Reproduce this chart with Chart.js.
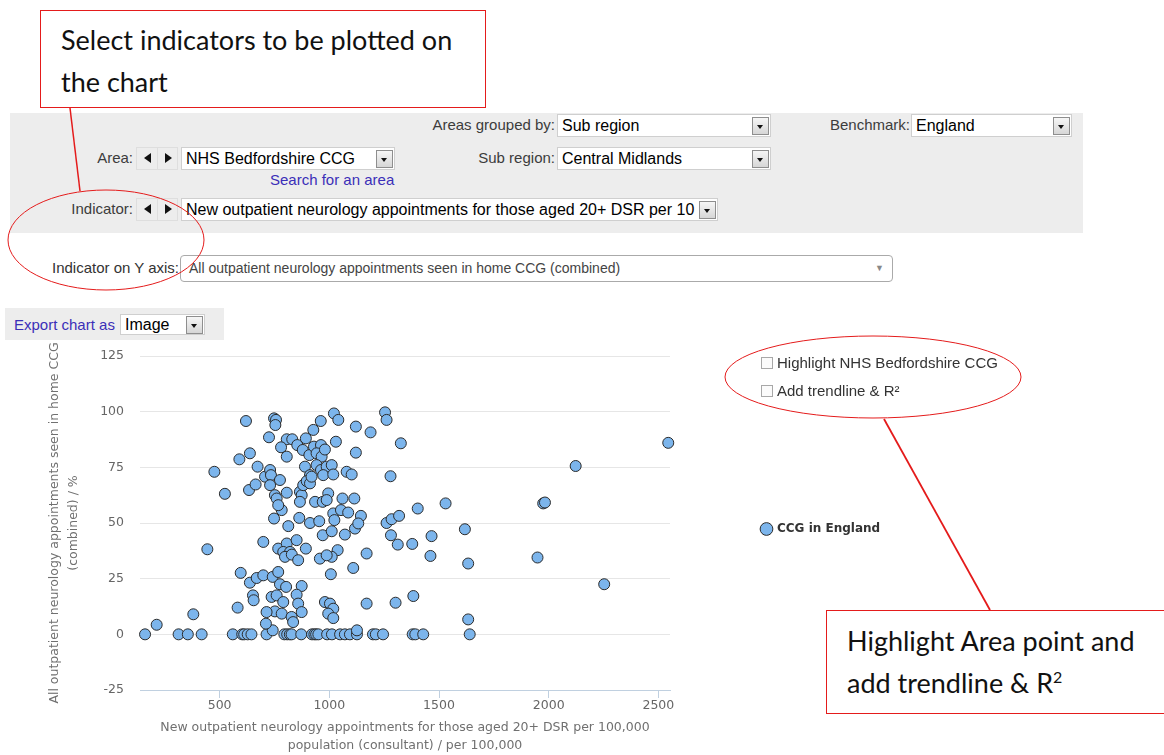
<!DOCTYPE html>
<html>
<head>
<meta charset="utf-8">
<script src="https://cdn.jsdelivr.net/npm/chart.js@4.4.1/dist/chart.umd.min.js"></script>
<style>
body { margin: 0; width: 1164px; height: 755px; position: relative; overflow: hidden; background: #fff;
  font-family: "Liberation Sans", Arial, sans-serif; }
.abs { position: absolute; }
.callout { position: absolute; border: 1px solid #e41b1b; background: #fff; font-family: Lato, "Open Sans", sans-serif;
  font-size: 27px; color: #111; line-height: 42px; box-sizing: border-box; white-space: nowrap; }
.panel { left: 10px; top: 113px; width: 1073px; height: 120px; background: #ededed; }
.lbl { position: absolute; font-size: 15px; color: #3c3c3c; line-height: 20px; text-align: right; white-space: nowrap; }
.sel { position: absolute; height: 23px; background: #fff; border: 1px solid #cfcfcf; box-sizing: border-box;
  font-size: 16px; line-height: 21px; padding-left: 4px; color: #000; white-space: nowrap; overflow: hidden; }
.btn { position: absolute; right: 1px; top: 2px; width: 15px; height: 16px; border: 1px solid #8e8e8e;
  background: linear-gradient(#f6f6f6, #d6d6d6); }
.btn:after { content: ""; position: absolute; left: 4px; top: 7px; border-left: 3.5px solid transparent;
  border-right: 3.5px solid transparent; border-top: 4px solid #111; }
.arrows { position: absolute; width: 42px; height: 23px; border: 1px solid #dedede; box-sizing: border-box; }
.arrows:before { content: ""; position: absolute; left: 20px; top: 0; width: 1px; height: 21px; background: #dedede; }
.arrows .l, .arrows .r { position: absolute; top: 5px; border-top: 5px solid transparent; border-bottom: 5px solid transparent; }
.arrows .l { left: 7px; border-right: 7px solid #111; }
.arrows .r { left: 28px; border-left: 7px solid #111; }
.link { position: absolute; color: #3b2fb8; font-size: 15px; white-space: nowrap; }
.chk { position: absolute; font-size: 15px; color: #333; white-space: nowrap; line-height: 18px; }
.chk span { display: inline-block; width: 10px; height: 10px; border: 1px solid #a8a8a8; background: #fbfbfb;
  margin-right: 4px; vertical-align: -1px; }
</style>
</head>
<body>

<div class="callout" style="left:40px;top:10px;width:446px;height:98px;padding:8px 0 0 20px;">Select indicators to be plotted on<br>the chart</div>

<div class="abs panel"></div>
<div class="lbl" style="right:609px;top:115px;">Areas grouped by:</div>
<div class="sel" style="left:557px;top:114px;width:214px;">Sub region<div class="btn"></div></div>
<div class="lbl" style="right:254px;top:115px;">Benchmark:</div>
<div class="sel" style="left:911px;top:114px;width:161px;">England<div class="btn"></div></div>

<div class="lbl" style="right:1031px;top:148px;">Area:</div>
<div class="arrows" style="left:136px;top:147px;"><div class="l"></div><div class="r"></div></div>
<div class="sel" style="left:181px;top:147px;width:214px;">NHS Bedfordshire CCG<div class="btn"></div></div>
<div class="lbl" style="right:609px;top:148px;">Sub region:</div>
<div class="sel" style="left:557px;top:147px;width:214px;">Central Midlands<div class="btn"></div></div>
<div class="link" style="left:270px;top:171px;">Search for an area</div>

<div class="lbl" style="right:1031px;top:199px;">Indicator:</div>
<div class="arrows" style="left:136px;top:198px;"><div class="l"></div><div class="r"></div></div>
<div class="sel" style="left:181px;top:198px;width:537px;">New outpatient neurology appointments for those aged 20+ DSR per 10<div class="btn"></div></div>

<div class="lbl" style="left:52px;top:258px;font-size:15px;color:#333;">Indicator on Y axis:</div>
<div class="abs" style="left:180px;top:255px;width:713px;height:27px;border:1px solid #aaa;border-radius:4px;box-sizing:border-box;
  font-size:14px;line-height:25px;padding-left:8px;color:#444;">All outpatient neurology appointments seen in home CCG (combined)
  <span style="position:absolute;right:8px;top:0;font-size:9px;color:#888;">&#9660;</span></div>

<div class="abs" style="left:5px;top:308px;width:219px;height:32px;background:#ededed;"></div>
<div class="link" style="left:14px;top:316px;">Export chart as</div>
<div class="sel" style="left:120px;top:314px;width:85px;height:21px;line-height:19px;">Image<div class="btn" style="top:1px;"></div></div>

<div class="abs" style="left:0;top:340px;width:900px;height:415px;">
  <canvas id="scatter"></canvas>
</div>

<div class="chk" style="left:761px;top:354px;"><span></span>Highlight NHS Bedfordshire CCG</div>
<div class="chk" style="left:761px;top:382px;"><span></span>Add trendline &amp; R²</div>

<div class="callout" style="left:826px;top:610px;width:350px;height:104px;padding:9px 0 0 20px;">Highlight Area point and<br>add trendline &amp; R<sup style="font-size:16px;line-height:0;">2</sup></div>

<svg class="abs" style="left:0;top:0;" width="1164" height="755">
  <line x1="70" y1="108" x2="80" y2="191" stroke="#e41b1b" stroke-width="1.5"/>
  <ellipse cx="106" cy="240" rx="98" ry="50" fill="none" stroke="#e41b1b" stroke-width="1"/>
  <ellipse cx="873" cy="377" rx="148" ry="41" fill="none" stroke="#e41b1b" stroke-width="1"/>
  <line x1="884" y1="419" x2="990" y2="610" stroke="#e41b1b" stroke-width="1.8"/>
</svg>

<script>
// x: new outpatient neurology appointments per 100,000, y: % seen in home CCG
const ccgX = [
  // on the 0 line
  160, 313, 355, 418, 560, 603, 612, 628, 645, 714,
  795, 808, 820, 828, 872, 921, 932, 940, 950, 990,
  1012, 1049, 1071, 1094, 1126, 1199, 1212, 1245, 1380, 1392,
  1428, 1640,
  // left side
  620, 638, 590, 476, 524, 634, 444, 596, 638, 652, 655, 582, 380, 213,
  // main cluster 650-1000
  748, 757, 754, 961, 725, 927, 806, 831, 854, 893,
  780, 806, 879, 909, 930, 962, 942, 965, 673, 707,
  730, 734, 889, 912, 942, 962, 988, 972, 775, 664,
  730, 752, 760, 806, 866, 874, 866, 881, 897, 912,
  919, 935, 970, 783, 767, 748, 863, 813, 912, 954,
  699, 767, 806, 851, 790, 821, 798, 829, 858, 893,
  970, 957, 669, 699, 742, 767, 775, 803, 874, 737,
  760, 851, 790, 858, 752, 714, 783, 828, 874, 835,
  742, 711, 980,
  // 1000-1350
  1021, 1041, 1254, 1261, 1121, 1188, 1030, 1326, 1121, 1011,
  1018, 1079, 1102, 1279, 995, 988, 1060, 1114, 1018, 1053,
  1086, 1023, 1144, 1117, 1132, 1011, 1071, 1261, 1284, 1318,
  1281, 1312, 1038, 1011, 988, 1170, 1109, 1007, 980, 1003,
  1018, 995, 1018, 1170, 1302, 1126,
  // right side
  1530, 1403, 1618, 1466, 1378, 1461, 1633, 1383, 1633, 2545, 2123, 1975, 1983, 1949, 2253
];
const ccgY = [
  0, 0, 0, 0, 0, 0, 0, 0, 0, 0,
  0, 0, 0, 0, 0, 0, 0, 0, 0, 0,
  0, 0, 0, 0, 0, 0, 0, 0, 0, 0,
  0, 0,
  95.8, 81.3, 78.6, 73, 63.1, 64.8, 38.2, 27.6, 23.2, 17.5, 15.3, 12, 9, 4.3,
  97, 96.3, 94, 95.8, 88.5, 91.8, 87.6, 87.6, 85, 88,
  84, 79.8, 82.8, 80.5, 84.3, 85, 81.3, 79.8, 75.3, 70.8,
  73.8, 71.5, 75.3, 71.5, 76, 73.8, 75.3, 71.5, 69.3, 67.3,
  67, 62.5, 61, 63.6, 64, 62.5, 59.5, 67, 68.8, 67.8,
  70.8, 59.5, 59.5, 55.8, 58, 52, 52.3, 48.6, 50, 50.8,
  41.5, 38.5, 40.8, 42.3, 37, 37, 34.8, 35.8, 33.3, 38.5,
  44.5, 34, 25.3, 26.5, 25.8, 28, 22.5, 21.3, 21.7, 16.8,
  17.5, 17.8, 14.5, 13.8, 10.3, 10, 9.3, 7.8, 10, 5.5,
  1.8, 4.8, 83,
  99.2, 96.3, 99.7, 96.3, 93.3, 90.7, 86.5, 85.8, 81.6, 76,
  71.8, 73, 71.8, 71, 63.3, 60.3, 61, 61, 54.3, 55.8,
  54.7, 51.3, 53.2, 47.5, 49.8, 46.3, 44.8, 50, 51.7, 53.2,
  44.5, 40.3, 37.8, 34.8, 35.5, 36.3, 29.8, 27, 14.5, 13.8,
  11.5, 9.3, 7.3, 13.8, 14.2, 1.8,
  58.8, 56.5, 47.2, 44.1, 40.6, 35.2, 31.8, 17.2, 6.7, 86, 75.6, 58.8, 59.2, 34.5, 22.5
];
const xTickValues = [500, 1000, 1500, 2000, 2500];
const yTickValues = [-25, 0, 25, 50, 75, 100, 125];
const xRange = [137, 2553];
const xTitle = ['New outpatient neurology appointments for those aged 20+ DSR per 100,000', 'population (consultant) / per 100,000'];
const yTitle = ['All outpatient neurology appointments seen in home CCG', '(combined) / %'];

const axisFont = { family: 'DejaVu Sans', size: 12.5 };

new Chart(document.getElementById('scatter'), {
    type: 'scatter',
    data: {
        datasets: [{
            label: 'CCG in England',
            data: ccgX.map((x, i) => ({ x: x, y: ccgY[i] })),
            backgroundColor: '#7cb5ec',
            borderColor: '#2b2b2b',
            borderWidth: 1,
            pointRadius: 5.5,
            pointHoverRadius: 5.5,
            clip: false
        }]
    },
    options: {
        responsive: true,
        maintainAspectRatio: false,
        animation: false,
        events: [],
        layout: { padding: { top: 16, left: 0, right: 15, bottom: 0 } },
        plugins: {
            tooltip: { enabled: false },
            legend: {
                position: 'right',
                fullSize: false,
                maxWidth: 215,
                // empty title just to push the item a few px lower
                title: { display: true, text: '', font: { size: 10, lineHeight: 1.2 }, padding: 0 },
                labels: {
                    usePointStyle: true,
                    boxWidth: 9,
                    boxHeight: 9,
                    padding: 92,
                    color: '#333',
                    font: { family: 'DejaVu Sans', size: 12, weight: 'bold' }
                }
            }
        },
        scales: {
            x: {
                type: 'linear',
                min: xRange[0],
                max: xRange[1],
                // only the round values get a tick, like the original
                afterBuildTicks: s => { s.ticks = xTickValues.map(v => ({ value: v })); },
                afterFit: s => { s.height = 65; },
                ticks: { color: '#666', padding: 0, font: axisFont, callback: v => String(v) },
                grid: { drawOnChartArea: false, drawTicks: true, tickLength: 8, tickColor: '#C0D0E0' },
                border: { color: '#C0D0E0' },
                title: {
                    display: true, text: xTitle, color: '#707070',
                    font: { family: 'DejaVu Sans', size: 12.5, lineHeight: 1.44 },
                    padding: { top: 0, bottom: 0 }
                }
            },
            y: {
                min: yTickValues[0],
                max: yTickValues[yTickValues.length - 1],
                afterBuildTicks: s => { s.ticks = yTickValues.map(v => ({ value: v })); },
                afterFit: s => { s.width = 140; s.paddingTop = 0; s.paddingBottom = 0; },
                ticks: { color: '#666', padding: 16, font: axisFont },
                grid: { drawTicks: false, color: c => (c.tick && c.tick.value === -25) ? '#C0D0E0' : '#e6e6e6' },
                border: { display: false },
                title: {
                    display: true, text: yTitle, color: '#707070',
                    font: { family: 'DejaVu Sans', size: 12.5, lineHeight: 1.52 },
                    padding: { top: 45.5, bottom: 0 }
                }
            }
        }
    }
});
</script>
</body>
</html>
